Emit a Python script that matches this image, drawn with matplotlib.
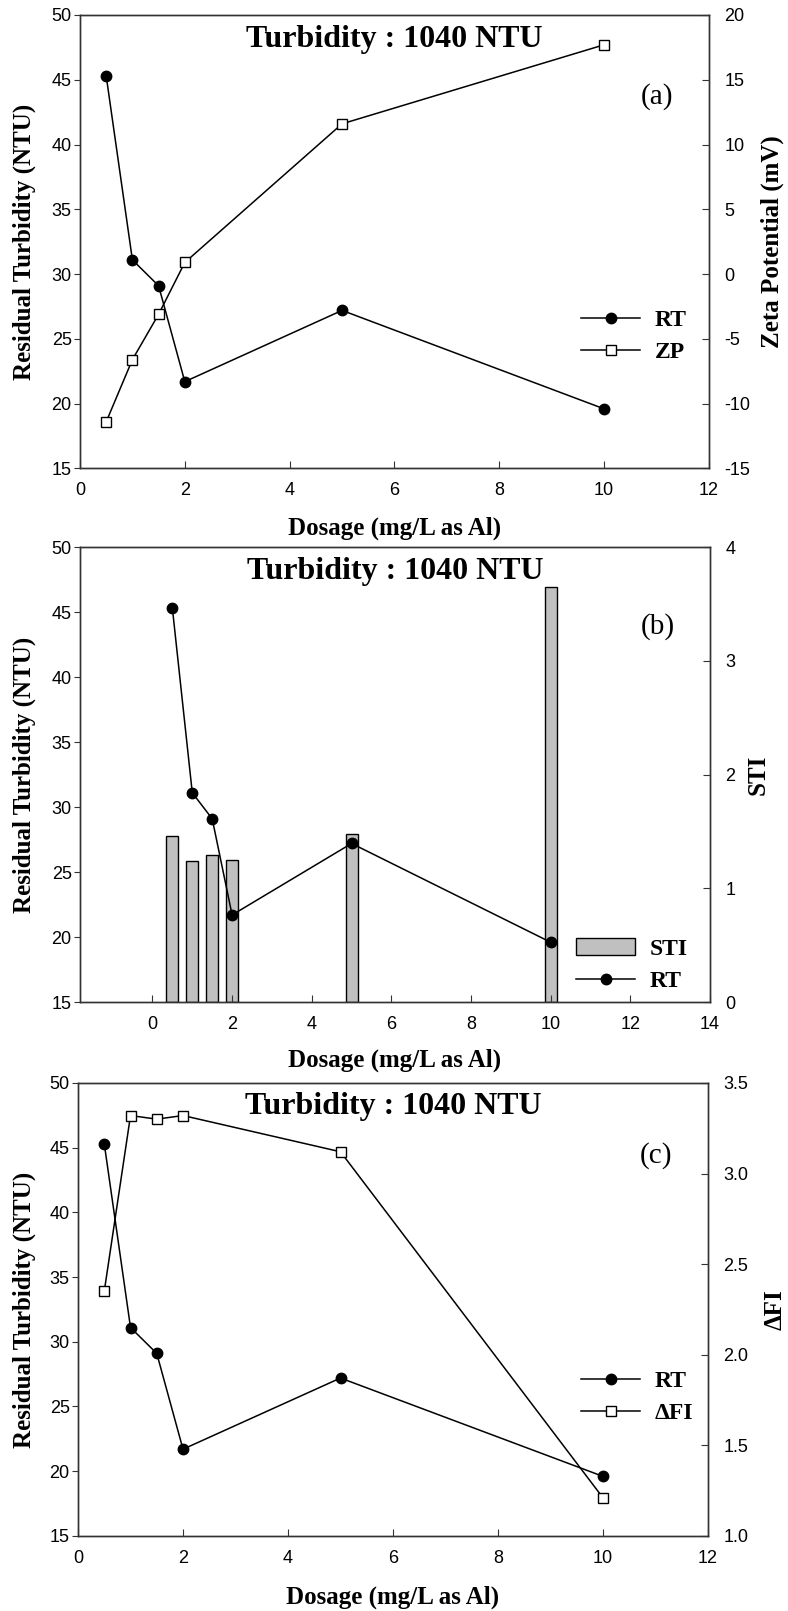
import matplotlib
matplotlib.use("Agg")
import matplotlib.pyplot as plt
from matplotlib.patches import Patch

SERIF = "Liberation Serif"
SANS = "Liberation Sans"
plt.rcParams['font.family'] = SANS
plt.rcParams['axes.unicode_minus'] = False

# data
dosage = [0.5, 1, 1.5, 2, 5, 10]
rt = [45.3, 31.1, 29.1, 21.7, 27.2, 19.6]
zp = [-11.4, -6.6, -3.1, 0.9, 11.6, 17.7]
sti = [1.46, 1.24, 1.29, 1.25, 1.48, 3.65]
dfi = [2.35, 3.32, 3.30, 3.32, 3.12, 1.21]

TITLE = "Turbidity : 1040 NTU"
XLABEL = "Dosage (mg/L as Al)"
YLABEL = "Residual Turbidity (NTU)"

SPINE = "#333333"
LBL = dict(family=SERIF, weight="bold", size=18)
TICK_FS = 13
LEG_PROP = dict(family=SERIF, weight='bold', size=17)

fig = plt.figure(figsize=(7.88, 16.11), dpi=100)

# axes rects [left, bottom, width, height] in figure fractions
rects = [[0.1015, 0.7092, 0.7982, 0.2815],
         [0.1015, 0.3780, 0.7995, 0.2824],
         [0.0990, 0.0466, 0.7995, 0.2812]]


def style(ax, ax2):
    for a in (ax, ax2):
        for s in a.spines.values():
            s.set_color(SPINE)
            s.set_linewidth(1.0)
    ax.tick_params(axis='y', direction='out', length=4.5, pad=1.5, labelsize=TICK_FS, color=SPINE)
    ax.tick_params(axis='x', direction='in', length=5, pad=10, labelsize=TICK_FS, color=SPINE)
    ax2.tick_params(axis='y', direction='in', length=5, pad=11, labelsize=TICK_FS, color=SPINE)
    ax.set_ylim(15, 50)
    ax.set_yticks([15, 20, 25, 30, 35, 40, 45, 50])
    ax.set_ylabel(YLABEL, **LBL, va='center')
    ax.yaxis.set_label_coords(-0.089, 0.5)
    ax.set_xlabel(XLABEL, **LBL, va='center')
    ax.xaxis.set_label_coords(0.5, -0.131)
    ax.text(0.5, 0.947, TITLE, transform=ax.transAxes, ha='center', va='center',
            family=SERIF, weight='bold', size=23)


def tag(ax, s, y):
    ax.text(0.917, y, s, transform=ax.transAxes, ha='center', va='center', family=SERIF, size=21)


# ---- (a) RT + zeta potential
ax = fig.add_axes(rects[0])
ax2 = ax.twinx()
ax.set_zorder(ax2.get_zorder() + 1)
ax.patch.set_visible(False)
l1, = ax.plot(dosage, rt, color='k', lw=1.1, marker='o', ms=7.5, mfc='k', mec='k', label='RT')
l2, = ax2.plot(dosage, zp, color='k', lw=1.1, marker='s', ms=7, mfc='w', mec='k', label='ZP')
ax.set_xlim(0, 12)
ax.set_xticks(range(0, 13, 2))
ax2.set_ylim(-15, 20)
ax2.set_yticks(range(-15, 21, 5))
ax2.set_ylabel("Zeta Potential (mV)", **LBL, va='center', rotation=90)
ax2.yaxis.set_label_coords(1.100, 0.5)
style(ax, ax2)
tag(ax, "(a)", 0.82)
ax.legend(handles=[l1, l2], loc='center right', bbox_to_anchor=(0.998, 0.291), frameon=False,
          prop=LEG_PROP, handlelength=2.5, handletextpad=0.6, labelspacing=0.45)

# ---- (b) RT + STI bars
ax = fig.add_axes(rects[1])
ax2 = ax.twinx()
ax.set_zorder(ax2.get_zorder() + 1)
ax.patch.set_visible(False)
ax2.bar(dosage, sti, width=0.3, color='#c0c0c0', edgecolor='k', linewidth=1)
l1, = ax.plot(dosage, rt, color='k', lw=1.1, marker='o', ms=7.5, mfc='k', mec='k', label='RT')
ax.set_xlim(-1.82, 14)
ax.set_xticks(range(0, 15, 2))
ax2.set_ylim(0, 4)
ax2.set_yticks(range(0, 5))
ax2.set_ylabel("STI", **LBL, va='center', rotation=90)
ax2.yaxis.set_label_coords(1.076, 0.5)
style(ax, ax2)
ax.xaxis.set_label_coords(0.5, -0.127)
tag(ax, "(b)", 0.825)
bar_h = Patch(facecolor='#c0c0c0', edgecolor='k', linewidth=1, label='STI')
ax.legend(handles=[bar_h, l1], loc='center right', bbox_to_anchor=(0.998, 0.081), frameon=False,
          prop=LEG_PROP, handlelength=2.5, handletextpad=0.6, labelspacing=0.45)

# ---- (c) RT + delta FI
ax = fig.add_axes(rects[2])
ax2 = ax.twinx()
ax.set_zorder(ax2.get_zorder() + 1)
ax.patch.set_visible(False)
l1, = ax.plot(dosage, rt, color='k', lw=1.1, marker='o', ms=7.5, mfc='k', mec='k', label='RT')
l2, = ax2.plot(dosage, dfi, color='k', lw=1.1, marker='s', ms=7, mfc='w', mec='k', label='\u0394FI')
ax.set_xlim(0, 12)
ax.set_xticks(range(0, 13, 2))
ax2.set_ylim(1.0, 3.5)
ax2.set_yticks([1.0, 1.5, 2.0, 2.5, 3.0, 3.5])
ax2.set_yticklabels(["1.0", "1.5", "2.0", "2.5", "3.0", "3.5"])
ax2.set_ylabel("\u0394FI", **LBL, va='center', rotation=90)
ax2.yaxis.set_label_coords(1.106, 0.5)
style(ax, ax2)
ax.yaxis.set_label_coords(-0.086, 0.5)
ax.xaxis.set_label_coords(0.5, -0.135)
tag(ax, "(c)", 0.84)
ax.legend(handles=[l1, l2], loc='center right', bbox_to_anchor=(1.01, 0.306), frameon=False,
          prop=LEG_PROP, handlelength=2.5, handletextpad=0.6, labelspacing=0.45)

fig.savefig("out.png", dpi=100)
